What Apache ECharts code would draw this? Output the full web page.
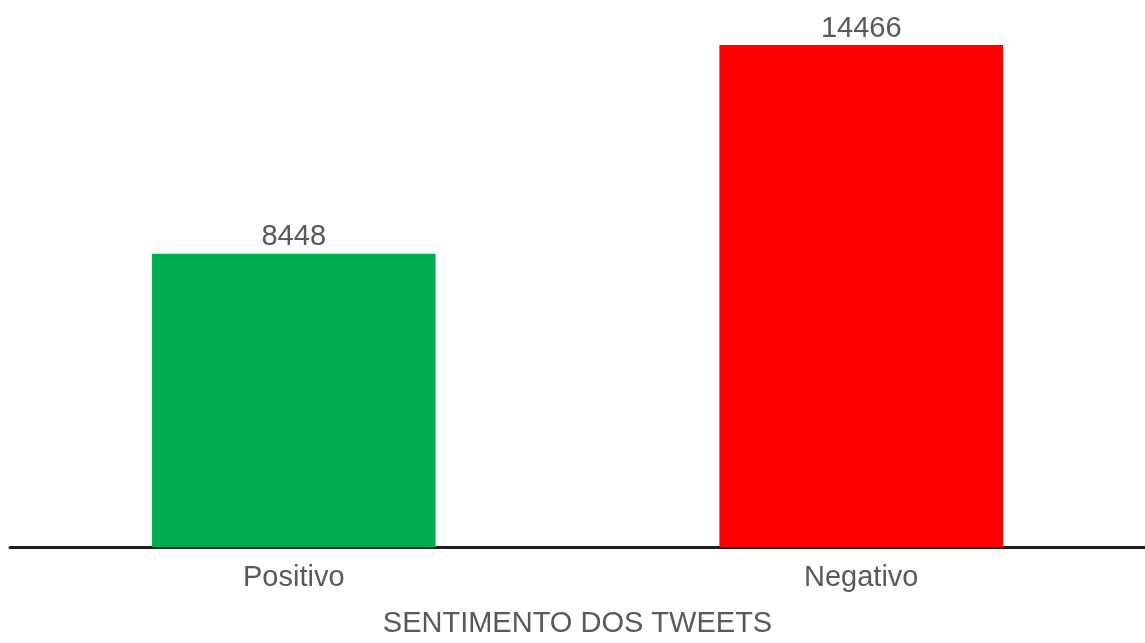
<!DOCTYPE html>
<html>
<head>
<meta charset="utf-8">
<script src="https://cdn.jsdelivr.net/npm/echarts@6/dist/echarts.min.js"></script>
<style>html,body{margin:0;padding:0;background:#fff;overflow:hidden;width:100%;height:100%}#c{width:100%;height:100%}</style>
</head>
<body>
<div id="c"></div>
<script>
const categories = ['Positivo', 'Negativo'];
const values = [8448, 14466];
const colors = ['#00AD4E', '#FF0000'];
const axisTitle = 'SENTIMENTO DOS TWEETS';

const chart = echarts.init(document.getElementById('c'));
chart.setOption({
  animation: false,
  textStyle: { fontFamily: 'Liberation Sans, Arial, sans-serif' },
  grid: { left: 10, width: 1146, top: 45, height: 508, containLabel: false },
  xAxis: {
    type: 'category',
    data: categories,
    axisLine: { lineStyle: { color: '#1f1f1f', width: 3 } },
    axisTick: { show: false },
    axisLabel: { fontSize: 29, color: '#595959', margin: 16, fontFamily: 'Liberation Sans' },
    name: axisTitle,
    nameLocation: 'middle',
    nameGap: 62,
    nameTextStyle: { fontSize: 29, color: '#595959', fontFamily: 'Liberation Sans' }
  },
  yAxis: { type: 'value', min: 0, max: 14466, show: false, splitLine: { show: false } },
  series: [{
    type: 'bar',
    barWidth: '50%',
    data: values.map((v, i) => ({ value: v, itemStyle: { color: colors[i] } })),
    label: { show: true, position: 'top', distance: 2, fontSize: 29, color: '#595959', fontFamily: 'Liberation Sans' }
  }]
});
</script>
</body>
</html>
